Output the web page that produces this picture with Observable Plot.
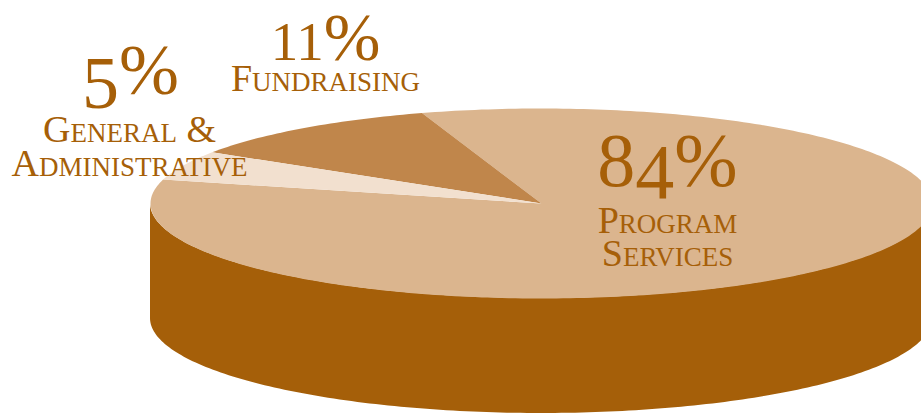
<!DOCTYPE html>
<html>
<head>
<meta charset="utf-8">
<style>
  html, body { margin: 0; padding: 0; background: #fff; overflow: hidden; }
  svg { display: block; }
</style>
<script src="https://cdn.jsdelivr.net/npm/d3@7"></script>
<script src="https://cdn.jsdelivr.net/npm/@observablehq/plot@0.6"></script>
</head>
<body>
<div id="chart"></div>
<script>
// Data
const categories = ["Fundraising", "General & Administrative", "Program Services"];
const shares = [11, 5, 84];
const shareLabels = ["11%", "5%", "84%"];
const nameLabels = ["Fundraising", "General &\nAdministrative", "Program\nServices"];
const sliceColors = ["#c0864b", "#f2e0cf", "#dbb58e"];
const wallColor = "#a55f09";
const inkColor = "#a65f08";

// Layout
const W = 921, H = 414;
const cx = 541, cy = 203, rx = 391, ry = 95, wallDepth = 115;
const startDeg = 107.8;
const sharePos = [[325, 59], [130, 93], [667, 185]];
const namePos = [[325, 64], [129, 117], [667, 210]];
const nameSize = 38;
const nameLine = [1, 0.9, 0.85];
// Old-style figures: each run of a label gets its own size and baseline shift
const shareRuns = [
  [["11", 55, 0], ["%", 68, 0]],
  [["5", 74, 14], ["%", 72, 0]],
  [["8", 76, 0], ["4", 78, 12], ["%", 76, 0]]
];

// Wedges, walked counter-clockwise from the start angle in unit-circle space
const rad = d => d * Math.PI / 180;
let from = startDeg;
const wedgePoints = categories.flatMap((name, i) => {
  const sweep = shares[i] / d3.sum(shares) * 360;
  const steps = Math.ceil(sweep);
  const arc = d3.range(steps + 1).map(k => {
    const a = rad(from + sweep * k / steps);
    return {name, x: Math.cos(a), y: Math.sin(a)};
  });
  from += sweep;
  return [{name, x: 0, y: 0}, ...arc, {name, x: 0, y: 0}];
});
const drawOrder = [2, 0, 1].map(i => categories[i]);
wedgePoints.sort((a, b) => drawOrder.indexOf(a.name) - drawOrder.indexOf(b.name));

const wallPoints = d3.range(180, 361).map(d => ({x: Math.cos(rad(d)), y: Math.sin(rad(d))}));
const depthUnit = wallDepth / ry;

const textMarks = categories.flatMap((name, i) => [
  Plot.text([shareLabels[i]], {
    text: d => d, frameAnchor: "top-left", dx: sharePos[i][0], dy: sharePos[i][1],
    textAnchor: "middle", lineAnchor: "bottom", className: "share-" + i,
    fontFamily: "'Liberation Serif', serif", fontSize: 72, fill: inkColor
  }),
  Plot.text([nameLabels[i]], {
    text: d => d, frameAnchor: "top-left", dx: namePos[i][0], dy: namePos[i][1],
    textAnchor: "middle", lineAnchor: "top", lineHeight: nameLine[i],
    fontFamily: "'Liberation Serif', serif", fontSize: nameSize, fontVariant: "small-caps", fill: inkColor
  })
]);

const chart = Plot.plot({
  width: W, height: H, margin: 0,
  style: {background: "#fff"},
  x: {domain: [(0 - cx) / rx, (W - cx) / rx], range: [0, W], axis: null},
  y: {domain: [(cy - 0) / ry, (cy - H) / ry], range: [0, H], axis: null},
  color: {domain: categories, range: sliceColors},
  marks: [
    Plot.areaY(wallPoints, {
      x: "x", y1: "y", y2: d => d.y - depthUnit, fill: wallColor
    }),
    Plot.line(wedgePoints, {
      x: "x", y: "y", z: "name", fill: "name", stroke: null, curve: "linear"
    }),
    ...textMarks
  ]
});

shareRuns.forEach((runs, i) => {
  const label = d3.select(chart).select(".share-" + i + " text");
  label.text(null);
  let shift = 0;
  runs.forEach(([str, size, base]) => {
    label.append("tspan").attr("font-size", size).attr("dy", base - shift).text(str);
    shift = base;
  });
});

document.getElementById("chart").append(chart);
</script>
</body>
</html>
